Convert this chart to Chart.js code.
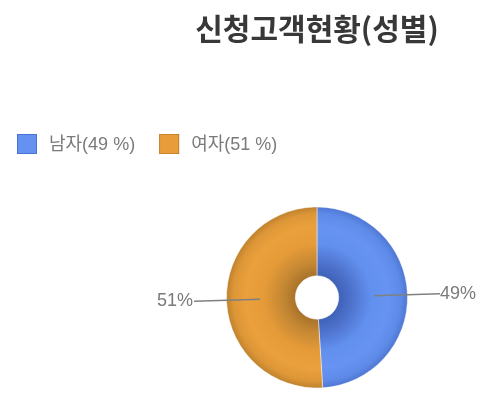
<!DOCTYPE html>
<html>
<head>
<meta charset="utf-8">
<script src="https://cdn.jsdelivr.net/npm/chart.js@4/dist/chart.umd.min.js"></script>
<style>
  html, body { margin: 0; padding: 0; background: #fff; }
  #wrap { width: 496px; height: 408px; }
</style>
</head>
<body>
<div id="wrap"><canvas id="genderChart"></canvas></div>
<script>
// 차트 데이터
const chartTitle = '신청고객현황(성별)';
const labels = ['남자', '여자'];
const values = [49, 51];
const baseColors = ['#6592F1', '#E89D3A'];
const edgeColors = ['#4a72d0', '#c58530'];

// 도넛 크기 (px)
const outerR = 90.5;
const innerR = 21.5;

// 입체감 있는 방사형 그라데이션
const shadeStops = [
    ['#3f62b6', '#a8722a'],
    ['#4c70ca', '#c28632'],
    ['#6290ee', '#e69b39'],
    ['#6794f3', '#eaa03c'],
    ['#5e8ae8', '#dd9637'],
    ['#4f77d3', '#bf822e']
];
const shadeOffsets = [0, 0.17, 0.47, 0.72, 0.9, 1];

function ringGradient(context) {
    const i = context.dataIndex;
    const chart = context.chart;
    const area = chart.chartArea;
    if (!area) return baseColors[i];
    const cx = (area.left + area.right) / 2;
    const cy = (area.top + area.bottom) / 2;
    const g = chart.ctx.createRadialGradient(cx, cy, innerR, cx, cy, outerR);
    shadeOffsets.forEach((o, k) => g.addColorStop(o, shadeStops[k][i]));
    return g;
}

// 제목, 범례, 퍼센트 라벨 그리기
const decorPlugin = {
    id: 'decor',
    afterDraw(chart) {
        const ctx = chart.ctx;
        const area = chart.chartArea;
        const cx = (area.left + area.right) / 2;
        const cy = (area.top + area.bottom) / 2;
        ctx.save();

        // 제목
        ctx.font = 'bold 30px "Noto Sans CJK KR", sans-serif';
        ctx.fillStyle = '#383838';
        ctx.textAlign = 'center';
        ctx.textBaseline = 'middle';
        ctx.fillText(chartTitle, cx, 29);

        // 범례
        ctx.font = '18px "Liberation Sans", "Noto Sans CJK KR", sans-serif';
        ctx.textAlign = 'left';
        let x = 17;
        labels.forEach((name, i) => {
            ctx.fillStyle = baseColors[i];
            ctx.fillRect(x, 134, 20, 20);
            ctx.strokeStyle = edgeColors[i];
            ctx.lineWidth = 1;
            ctx.strokeRect(x + 0.5, 134.5, 19, 19);
            const text = `${name}(${values[i]} %)`;
            ctx.fillStyle = '#7a7a7a';
            ctx.fillText(text, x + 32, 145);
            x += 32 + ctx.measureText(text).width + 24;
        });

        // 퍼센트 라벨과 지시선
        const total = values.reduce((a, b) => a + b, 0);
        const meta = chart.getDatasetMeta(0);
        meta.data.forEach((arc, i) => {
            const mid = (arc.startAngle + arc.endAngle) / 2;
            const cos = Math.cos(mid), sin = Math.sin(mid);
            const x1 = cx + cos * 57, y1 = cy + sin * 57;
            const x2 = cx + cos * 123, y2 = cy + sin * 123;
            ctx.strokeStyle = '#808080';
            ctx.lineWidth = 1.5;
            ctx.beginPath();
            ctx.moveTo(x1, y1);
            ctx.lineTo(x2, y2);
            ctx.stroke();
            const pct = Math.round(values[i] / total * 100) + '%';
            ctx.font = '18px "Liberation Sans", sans-serif';
            ctx.fillStyle = '#7a7a7a';
            ctx.textBaseline = 'middle';
            ctx.textAlign = cos >= 0 ? 'left' : 'right';
            ctx.fillText(pct, x2 + (cos >= 0 ? 0 : -1), y2);
        });

        ctx.restore();
    }
};

new Chart(document.getElementById('genderChart'), {
    type: 'doughnut',
    data: {
        labels: labels,
        datasets: [{
            data: values,
            backgroundColor: ringGradient,
            borderColor: 'rgba(255,255,255,0.45)',
            borderWidth: 1
        }]
    },
    options: {
        responsive: true,
        maintainAspectRatio: false,
        animation: false,
        radius: outerR,
        cutout: innerR,
        layout: {
            padding: { left: 227, right: 89, top: 207, bottom: 20 }
        },
        plugins: {
            legend: { display: false },
            title: { display: false },
            tooltip: { enabled: false }
        },
        events: []
    },
    plugins: [decorPlugin]
});
</script>
</body>
</html>
